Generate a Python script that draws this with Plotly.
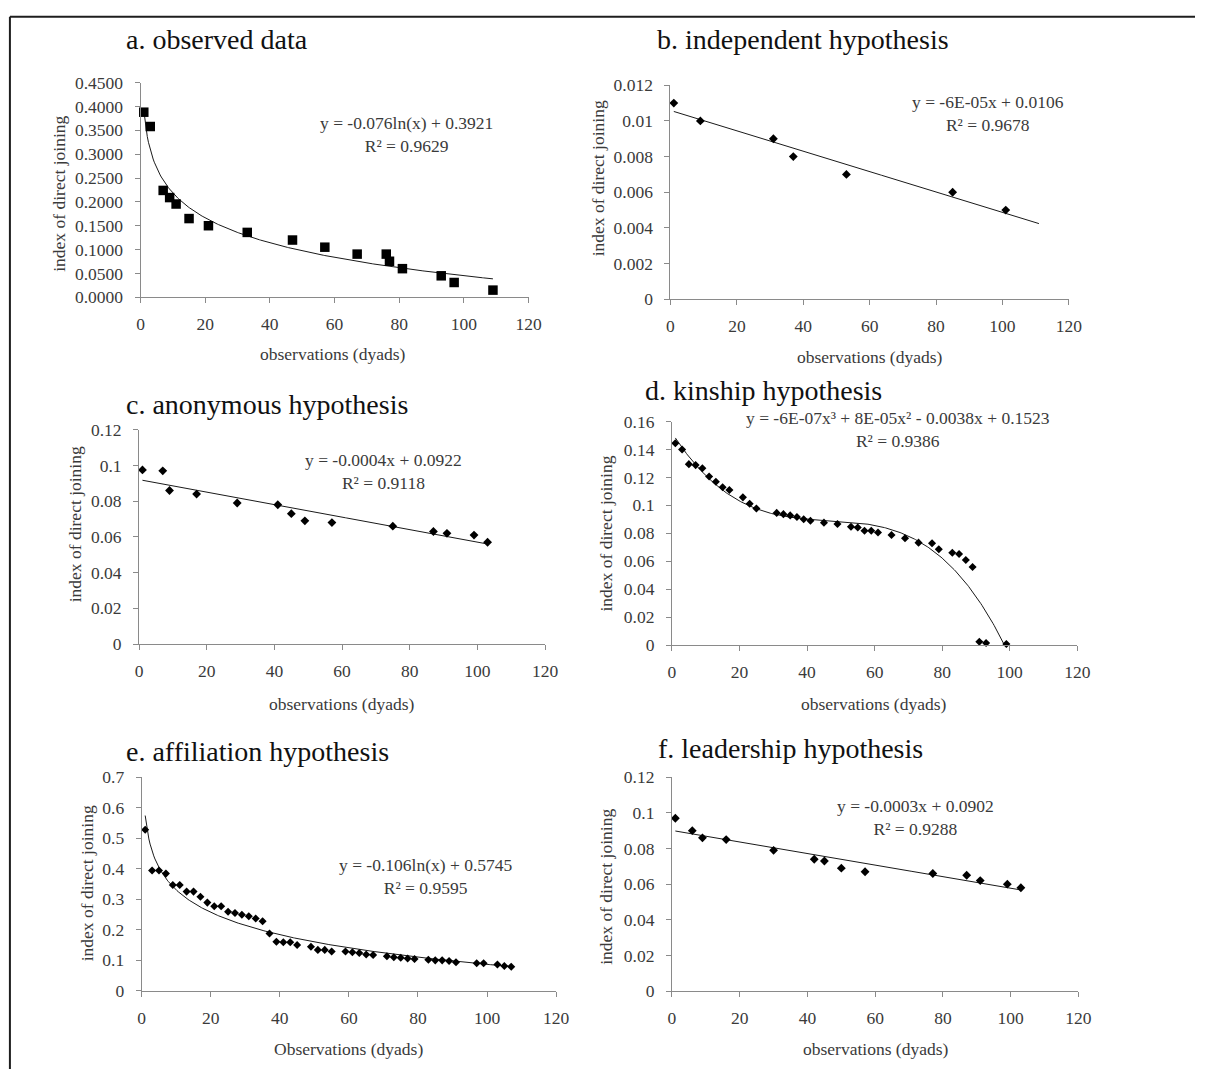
import numpy as np
import plotly.graph_objects as go

W, H = 1208, 1079

# ---------------- data ----------------
a_x = [1, 3, 7, 9, 11, 15, 21, 33, 47, 57, 67, 76, 77, 81, 93, 97, 109]
a_y = [0.388, 0.358, 0.224, 0.209, 0.1955, 0.165, 0.150, 0.136, 0.120, 0.105,
       0.0905, 0.0905, 0.0755, 0.060, 0.045, 0.031, 0.015]

b_x = [1, 9, 31, 37, 53, 85, 101]
b_y = [0.011, 0.010, 0.009, 0.008, 0.007, 0.006, 0.005]

c_x = [1, 7, 9, 17, 29, 41, 45, 49, 57, 75, 87, 91, 99, 103]
c_y = [0.0975, 0.097, 0.086, 0.084, 0.079, 0.078, 0.073, 0.069, 0.068, 0.066,
       0.063, 0.062, 0.061, 0.057]

d_x = [1, 3, 5, 7, 9, 11, 13, 15, 17, 21, 23, 25, 31, 33, 35, 37, 39, 41, 45, 49,
       53, 55, 57, 59, 61, 65, 69, 73, 77, 79, 83, 85, 87, 89, 91, 93, 99]
d_y = [0.1445, 0.140, 0.1295, 0.1288, 0.1265, 0.1206, 0.1169, 0.1129, 0.1110,
       0.1057, 0.1012, 0.0977, 0.0946, 0.0937, 0.0928, 0.0916, 0.0900, 0.0890,
       0.0876, 0.0867, 0.0846, 0.0841, 0.0818, 0.0818, 0.0806, 0.0787, 0.0764,
       0.0733, 0.0729, 0.0686, 0.0661, 0.0651, 0.0609, 0.0558, 0.0023, 0.0014,
       0.0007]

e_x = [1, 3, 5, 7, 9, 11, 13, 15, 17, 19, 21, 23, 25, 27, 29, 31, 33, 35, 37, 39,
       41, 43, 45, 49, 51, 53, 55, 59, 61, 63, 65, 67, 71, 73, 75, 77, 79, 83, 85,
       87, 89, 91, 97, 99, 103, 105, 107]
e_y = [0.528, 0.394, 0.394, 0.384, 0.347, 0.347, 0.325, 0.325, 0.308, 0.289,
       0.277, 0.277, 0.259, 0.255, 0.249, 0.244, 0.237, 0.228, 0.188, 0.161,
       0.159, 0.159, 0.150, 0.144, 0.134, 0.134, 0.129, 0.129, 0.126, 0.124,
       0.119, 0.117, 0.113, 0.110, 0.108, 0.106, 0.104, 0.102, 0.0997, 0.0997,
       0.0975, 0.0933, 0.090, 0.090, 0.086, 0.081, 0.079]

f_x = [1, 6, 9, 16, 30, 42, 45, 50, 57, 77, 87, 91, 99, 103]
f_y = [0.097, 0.090, 0.086, 0.085, 0.079, 0.074, 0.073, 0.069, 0.067, 0.066,
       0.065, 0.062, 0.060, 0.058]

titles = ["a. observed data", "b. independent hypothesis", "c. anonymous hypothesis",
          "d. kinship hypothesis", "e. affiliation hypothesis", "f. leadership hypothesis"]
equations = ["y = -0.076ln(x) + 0.3921<br>R² = 0.9629",
             "y = -6E-05x + 0.0106<br>R² = 0.9678",
             "y = -0.0004x + 0.0922<br>R² = 0.9118",
             "y = -6E-07x³ + 8E-05x² - 0.0038x + 0.1523<br>R² = 0.9386",
             "y = -0.106ln(x) + 0.5745<br>R² = 0.9595",
             "y = -0.0003x + 0.0902<br>R² = 0.9288"]
x_titles = ["observations (dyads)", "observations (dyads)", "observations (dyads)",
            "observations (dyads)", "Observations (dyads)", "observations (dyads)"]
y_title = "index of direct joining"

x_ticks = [0, 20, 40, 60, 80, 100, 120]
a_ticks = [0, 0.05, 0.10, 0.15, 0.20, 0.25, 0.30, 0.35, 0.40, 0.45]
a_ticktext = ["0.0000", "0.0500", "0.1000", "0.1500", "0.2000", "0.2500",
              "0.3000", "0.3500", "0.4000", "0.4500"]
b_ticks = [0, 0.002, 0.004, 0.006, 0.008, 0.010, 0.012]
b_ticktext = ["0", "0.002", "0.004", "0.006", "0.008", "0.01", "0.012"]
cf_ticks = [0, 0.02, 0.04, 0.06, 0.08, 0.10, 0.12]
cf_ticktext = ["0", "0.02", "0.04", "0.06", "0.08", "0.1", "0.12"]
d_ticks = [0, 0.02, 0.04, 0.06, 0.08, 0.10, 0.12, 0.14, 0.16]
d_ticktext = ["0", "0.02", "0.04", "0.06", "0.08", "0.1", "0.12", "0.14", "0.16"]
e_ticks = [0, 0.1, 0.2, 0.3, 0.4, 0.5, 0.6, 0.7]
e_ticktext = ["0", "0.1", "0.2", "0.3", "0.4", "0.5", "0.6", "0.7"]

# ---------------- layout geometry (pixels) ----------------
geo = [
    dict(box=(138.5, 532, 74, 292.7), t=(122, 30), eq=(408, 127), yt=(55, 187), xt=(333, 351)),
    dict(box=(676, 1080, 76.7, 294.7), t=(660, 30), eq=(998, 105), yt=(602, 172), xt=(878, 354)),
    dict(box=(137, 548.8, 427.7, 646), t=(122, 402), eq=(385, 470), yt=(72, 524), xt=(342, 707)),
    dict(box=(677.5, 1088.6, 419.3, 647), t=(648, 388), eq=(907, 427), yt=(611, 533), xt=(882, 707)),
    dict(box=(139.7, 560, 781.7, 999.3), t=(122, 755), eq=(428, 883), yt=(84, 890), xt=(349, 1059)),
    dict(box=(677.5, 1089.8, 781.7, 999.7), t=(661, 752), eq=(925, 823), yt=(611, 893), xt=(884, 1059)),
]
marker_sizes = [9.5, 6.8, 6.8, 6.2, 6.2, 6.8]

series = [(a_x, a_y, "log", 0, "square"), (b_x, b_y, "lin", 10, "diamond"),
          (c_x, c_y, "lin", 0, "diamond"), (d_x, d_y, "poly3", 0, "diamond"),
          (e_x, e_y, "log", 0, "diamond"), (f_x, f_y, "lin", 0, "diamond")]
yticks = [(a_ticks, a_ticktext, 0.45), (b_ticks, b_ticktext, 0.012),
          (cf_ticks, cf_ticktext, 0.12), (d_ticks, d_ticktext, 0.16),
          (e_ticks, e_ticktext, 0.7), (cf_ticks, cf_ticktext, 0.12)]

FONT = "Liberation Serif, Times New Roman, serif"
AXIS_COL = "#8a8a8a"
TXT_COL = "#3a3a3a"
SMALL = 17.5

fig = go.Figure()
annotations = []
layout_axes = {}

for i, ((xs, ys, kind, ext, sym), g, (tv, tt, ymax)) in enumerate(zip(series, geo, yticks)):
    n = "" if i == 0 else str(i + 1)
    xa, ya = "x" + n, "y" + n
    x0, x1, yt, yb = g["box"]
    xs_a = np.array(xs, dtype=float)
    ys_a = np.array(ys, dtype=float)
    xx = np.linspace(xs_a.min(), xs_a.max() + ext, 300)
    if kind == "log":
        c = np.polyfit(np.log(xs_a), ys_a, 1)
        yy = c[0] * np.log(xx) + c[1]
    elif kind == "lin":
        c = np.polyfit(xs_a, ys_a, 1)
        yy = np.polyval(c, xx)
    else:
        c = np.polyfit(xs_a, ys_a, 3)
        yy = np.polyval(c, xx)
    fig.add_trace(go.Scatter(x=xx, y=yy, mode="lines", xaxis=xa, yaxis=ya,
                             line=dict(color="#1a1a1a", width=1), showlegend=False,
                             hoverinfo="skip", cliponaxis=False))
    fig.add_trace(go.Scatter(x=xs, y=ys, mode="markers", xaxis=xa, yaxis=ya,
                             marker=dict(symbol=sym, size=marker_sizes[i],
                                         color="#000000", line=dict(width=0)),
                             showlegend=False, cliponaxis=False))
    layout_axes["xaxis" + n] = dict(
        domain=[x0 / W, x1 / W], anchor=ya, range=[0, 120], tickvals=x_ticks,
        ticktext=[str(v) for v in x_ticks], showgrid=False, zeroline=False,
        showline=True, linecolor=AXIS_COL, linewidth=1, ticks="outside", ticklen=5,
        tickcolor=AXIS_COL, tickfont=dict(family=FONT, size=SMALL, color=TXT_COL),
        ticklabelstandoff=6, fixedrange=True)
    layout_axes["yaxis" + n] = dict(
        domain=[1 - yb / H, 1 - yt / H], anchor=xa, range=[0, ymax], tickvals=tv,
        ticktext=tt, showgrid=False, zeroline=False, showline=True,
        linecolor=AXIS_COL, linewidth=1, ticks="outside", ticklen=5,
        tickcolor=AXIS_COL, tickfont=dict(family=FONT, size=SMALL, color=TXT_COL),
        ticklabelstandoff=8, fixedrange=True)
    annotations.append(dict(text=titles[i], x=g["t"][0] / W, y=1 - g["t"][1] / H,
                            xref="paper", yref="paper", xanchor="left", yanchor="middle",
                            showarrow=False, font=dict(family=FONT, size=28, color="#111111")))
    annotations.append(dict(text=equations[i], x=g["eq"][0] / W, y=1 - g["eq"][1] / H,
                            xref="paper", yref="paper", xanchor="center", yanchor="middle",
                            align="center", showarrow=False,
                            font=dict(family=FONT, size=SMALL, color=TXT_COL)))
    annotations.append(dict(text=y_title, x=g["yt"][0] / W, y=1 - g["yt"][1] / H,
                            xref="paper", yref="paper", xanchor="center", yanchor="middle",
                            textangle=-90, showarrow=False,
                            font=dict(family=FONT, size=SMALL, color=TXT_COL)))
    annotations.append(dict(text=x_titles[i], x=g["xt"][0] / W, y=1 - g["xt"][1] / H,
                            xref="paper", yref="paper", xanchor="center", yanchor="middle",
                            showarrow=False, font=dict(family=FONT, size=SMALL, color=TXT_COL)))

shapes = [
    dict(type="line", xref="paper", yref="paper", x0=6 / W, x1=1.0, y0=1 - 7 / H, y1=1 - 7 / H,
         line=dict(color="#1e1e1e", width=2)),
    dict(type="line", xref="paper", yref="paper", x0=6 / W, x1=6 / W, y0=0, y1=1 - 7 / H,
         line=dict(color="#1e1e1e", width=2)),
]

fig.update_layout(width=W, height=H, margin=dict(l=0, r=0, t=0, b=0),
                  paper_bgcolor="white", plot_bgcolor="white",
                  annotations=annotations, shapes=shapes, showlegend=False,
                  **layout_axes)

fig.write_html("out.html",
               post_script="document.body.style.margin='0';document.body.style.padding='0';"
                           "document.documentElement.style.overflow='hidden';")
